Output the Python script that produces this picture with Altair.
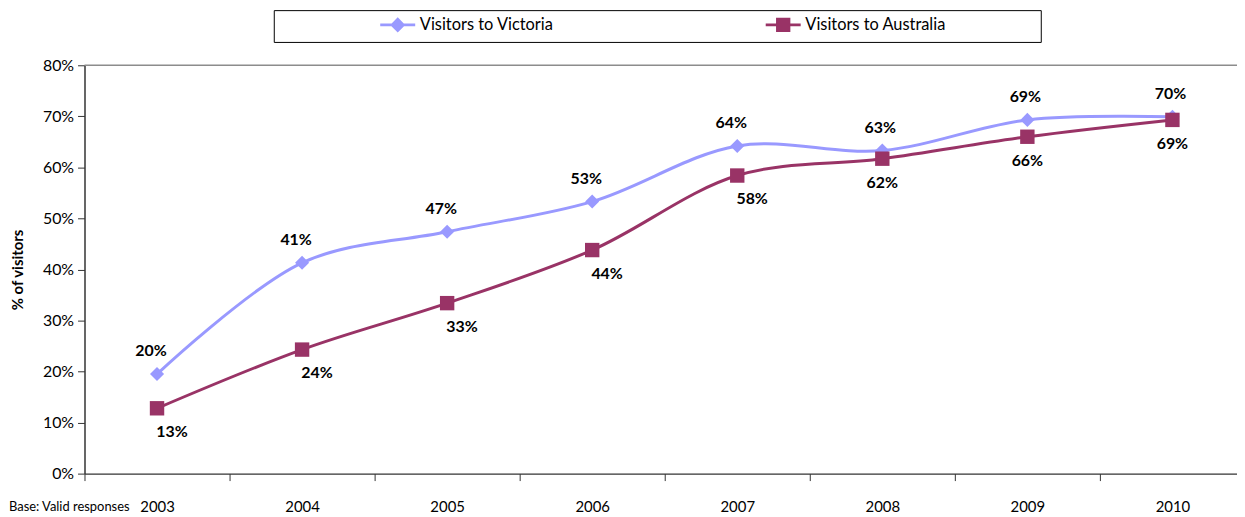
import altair as alt
import pandas as pd

years = ["2003", "2004", "2005", "2006", "2007", "2008", "2009", "2010"]
victoria = [19.5, 41.3, 47.4, 53.3, 64.2, 63.3, 69.3, 69.9]
australia = [12.8, 24.3, 33.4, 43.8, 58.4, 61.7, 66.0, 69.3]
series_names = ["Visitors to Victoria", "Visitors to Australia"]
colors = ["#9999FF", "#993366"]
y_title = "% of visitors"
note = "Base: Valid responses"

FONT = "Lato"

df_v = pd.DataFrame({"year": years, "value": victoria, "series": series_names[0]})
df_a = pd.DataFrame({"year": years, "value": australia, "series": series_names[1]})
df_all = pd.concat([df_v, df_a], ignore_index=True)

x_enc = alt.X(
    "year:O",
    scale=alt.Scale(type="band", range=[0, 1168], paddingInner=0, paddingOuter=0),
    axis=alt.Axis(
        title=None, labelAngle=0, tickBand="extent", labelPadding=19,
        labelFontSize=15, tickSize=7, labelFont=FONT,
    ),
)
y_enc = alt.Y(
    "value:Q",
    scale=alt.Scale(domain=[0, 80], nice=False),
    axis=alt.Axis(
        values=list(range(0, 81, 10)), labelExpr="datum.value + '%'",
        title=y_title, titleFontWeight="bold", titleFontSize=15, titlePadding=17,
        labelFontSize=16, labelFont=FONT, titleFont=FONT, tickSize=7, labelPadding=4,
        grid=False,
    ),
)

top_line = alt.Chart(pd.DataFrame({"v": [80]})).mark_rule(color="#8c8c8c", strokeWidth=1.5).encode(
    y=alt.Y("v:Q", scale=alt.Scale(domain=[0, 80], nice=False))
)

def series_layers(df, color, shape, size, label_dy, dx_early, dx_late):
    base = alt.Chart(df).encode(x=x_enc, y=y_enc)
    line = base.mark_line(color=color, strokeWidth=3, interpolate="catmull-rom")
    pts = base.mark_point(shape=shape, filled=True, size=size, color=color, opacity=1)
    lab = base.transform_calculate(lbl="format(datum.value, '.0f') + '%'")
    lab_early = lab.transform_filter("toNumber(datum.year) <= 2007").mark_text(
        font=FONT, fontSize=16, fontWeight="bold", color="black", dy=label_dy, dx=dx_early
    ).encode(text="lbl:N")
    lab_late = lab.transform_filter("toNumber(datum.year) > 2007").mark_text(
        font=FONT, fontSize=16, fontWeight="bold", color="black", dy=label_dy, dx=dx_late
    ).encode(text="lbl:N")
    return [line, pts, lab_early, lab_late]

vic_layers = series_layers(df_v, colors[0], "diamond", 200, -23, -6, -2)
aus_layers = series_layers(df_a, colors[1], "square", 210, 24, 15, 0)

vic_path = "M-2.2,-0.18H2.2V0.18H-2.2Z M0,-0.95L0.95,0L0,0.95L-0.95,0Z"
aus_path = "M-2.2,-0.18H2.2V0.18H-2.2Z M-0.9,-0.9H0.9V0.9H-0.9Z"

leg = alt.Legend(
    title=None, orient="none", legendX=307, legendY=-49, direction="horizontal",
    labelFont=FONT, labelFontSize=16.5, labelColor="black", symbolSize=256,
    symbolStrokeWidth=0, symbolOpacity=1, labelOffset=14, columnPadding=212, padding=0,
)
legend_layer = alt.Chart(df_all).mark_point(filled=True, opacity=0).encode(
    x=x_enc, y=y_enc,
    color=alt.Color("series:N", scale=alt.Scale(domain=series_names, range=colors), legend=leg),
    shape=alt.Shape("series:N", scale=alt.Scale(domain=series_names, range=[vic_path, aus_path]), legend=leg),
)

legend_box = alt.Chart(pd.DataFrame({"k": [1]})).mark_rect(
    fillOpacity=0, stroke="black", strokeWidth=1
).encode(x=alt.value(191), x2=alt.value(963), y=alt.value(-55), y2=alt.value(-23))

note_text = alt.Chart(pd.DataFrame({"t": [note]})).mark_text(
    font=FONT, fontSize=13, align="left", baseline="middle", color="black"
).encode(text="t:N", x=alt.value(-76), y=alt.value(445))

chart = alt.layer(
    top_line, *vic_layers, *aus_layers, legend_layer, legend_box, note_text
).properties(
    width=1160, height=411,
    autosize=alt.AutoSizeParams(type="none"),
    padding={"left": 77, "top": 56, "right": 0, "bottom": 42},
).configure_view(strokeWidth=0).configure_axis(
    domainColor="#333333", tickColor="#333333", labelColor="black", titleColor="black",
    domainWidth=1.5,
)

chart.save("out.html", embed_options={"renderer": "svg", "actions": False})
